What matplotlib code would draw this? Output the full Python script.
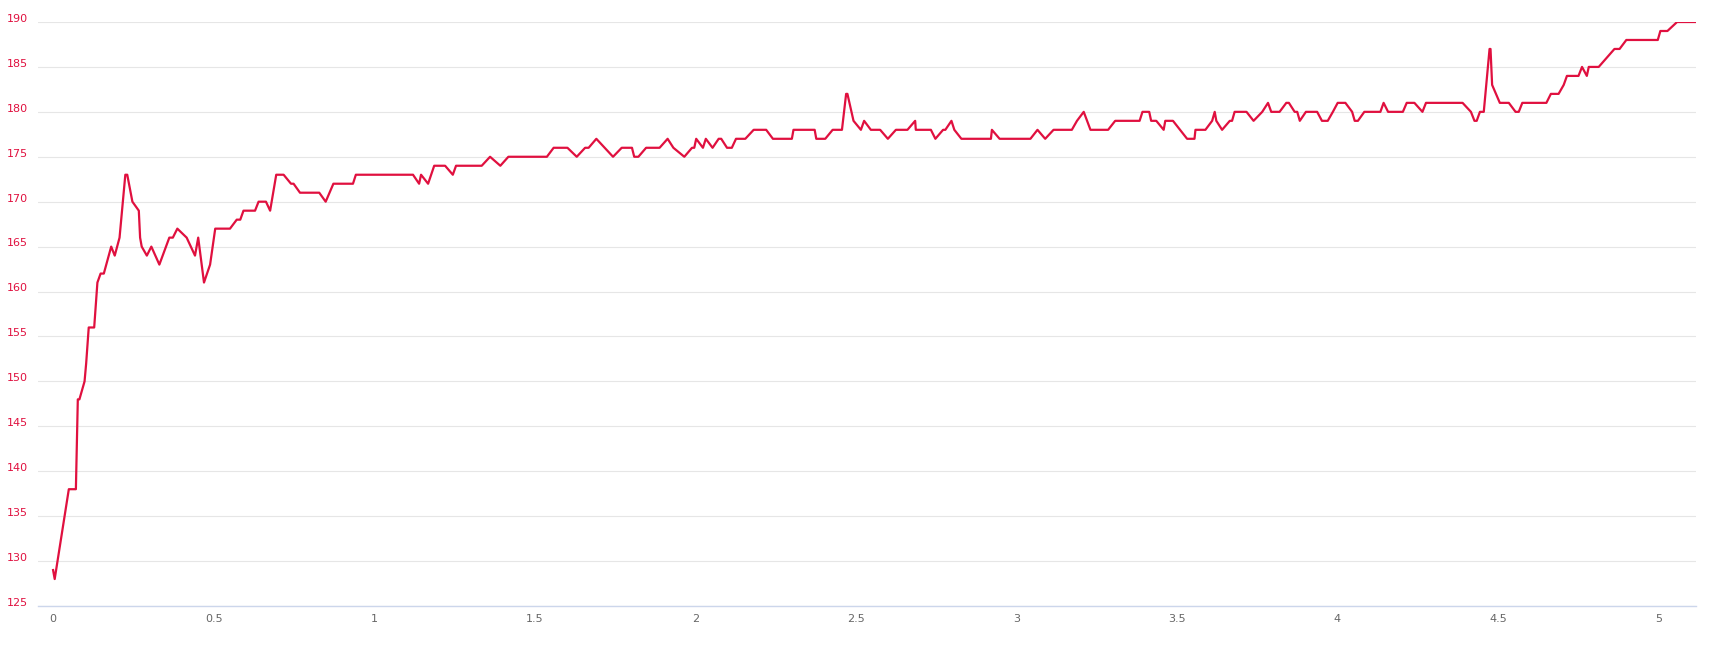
import matplotlib
matplotlib.use("Agg")
import matplotlib.pyplot as plt
import matplotlib.transforms as mtransforms

# vertices of the line
x_vals = [
    0.000, 0.005, 0.049, 0.071, 0.077, 0.082, 0.098, 0.103, 0.111, 0.128,
    0.138, 0.148, 0.158, 0.181, 0.192, 0.207, 0.225, 0.231, 0.247, 0.267,
    0.271, 0.276, 0.292, 0.306, 0.331, 0.362, 0.373, 0.387, 0.416, 0.442,
    0.452, 0.470, 0.489, 0.505, 0.551, 0.572, 0.583, 0.593, 0.629, 0.640,
    0.663, 0.676, 0.695, 0.718, 0.741, 0.749, 0.769, 0.829, 0.849, 0.873,
    0.934, 0.943, 1.121, 1.140, 1.146, 1.168, 1.187, 1.221, 1.245, 1.255,
    1.335, 1.361, 1.393, 1.418, 1.538, 1.559, 1.602, 1.631, 1.657, 1.668,
    1.692, 1.744, 1.771, 1.803, 1.810, 1.823, 1.847, 1.889, 1.914, 1.932,
    1.966, 1.990, 1.997, 2.003, 2.024, 2.033, 2.054, 2.073, 2.081, 2.099,
    2.114, 2.127, 2.156, 2.182, 2.221, 2.242, 2.301, 2.306, 2.372, 2.377,
    2.405, 2.428, 2.457, 2.470, 2.474, 2.493, 2.516, 2.526, 2.547, 2.576,
    2.600, 2.625, 2.661, 2.685, 2.687, 2.734, 2.748, 2.772, 2.779, 2.798,
    2.807, 2.829, 2.921, 2.924, 2.948, 3.044, 3.066, 3.090, 3.116, 3.173,
    3.189, 3.210, 3.231, 3.286, 3.308, 3.384, 3.393, 3.414, 3.420, 3.436,
    3.459, 3.464, 3.488, 3.532, 3.555, 3.558, 3.589, 3.610, 3.618, 3.623,
    3.641, 3.665, 3.672, 3.680, 3.717, 3.739, 3.766, 3.784, 3.794, 3.820,
    3.841, 3.849, 3.867, 3.875, 3.883, 3.902, 3.937, 3.952, 3.970, 3.986,
    4.001, 4.025, 4.046, 4.054, 4.064, 4.084, 4.134, 4.144, 4.158, 4.204,
    4.216, 4.240, 4.265, 4.276, 4.390, 4.416, 4.427, 4.434, 4.444, 4.456,
    4.474, 4.477, 4.482, 4.506, 4.534, 4.555, 4.565, 4.576, 4.651, 4.665,
    4.689, 4.705, 4.715, 4.751, 4.762, 4.777, 4.783, 4.814, 4.863, 4.879,
    4.900, 4.998, 5.006, 5.028, 5.058, 5.115,
]
y_vals = [
    129, 128, 138, 138, 148, 148, 150, 152, 156, 156,
    161, 162, 162, 165, 164, 166, 173, 173, 170, 169,
    166, 165, 164, 165, 163, 166, 166, 167, 166, 164,
    166, 161, 163, 167, 167, 168, 168, 169, 169, 170,
    170, 169, 173, 173, 172, 172, 171, 171, 170, 172,
    172, 173, 173, 172, 173, 172, 174, 174, 173, 174,
    174, 175, 174, 175, 175, 176, 176, 175, 176, 176,
    177, 175, 176, 176, 175, 175, 176, 176, 177, 176,
    175, 176, 176, 177, 176, 177, 176, 177, 177, 176,
    176, 177, 177, 178, 178, 177, 177, 178, 178, 177,
    177, 178, 178, 182, 182, 179, 178, 179, 178, 178,
    177, 178, 178, 179, 178, 178, 177, 178, 178, 179,
    178, 177, 177, 178, 177, 177, 178, 177, 178, 178,
    179, 180, 178, 178, 179, 179, 180, 180, 179, 179,
    178, 179, 179, 177, 177, 178, 178, 179, 180, 179,
    178, 179, 179, 180, 180, 179, 180, 181, 180, 180,
    181, 181, 180, 180, 179, 180, 180, 179, 179, 180,
    181, 181, 180, 179, 179, 180, 180, 181, 180, 180,
    181, 181, 180, 181, 181, 180, 179, 179, 180, 180,
    187, 187, 183, 181, 181, 180, 180, 181, 181, 182,
    182, 183, 184, 184, 185, 184, 185, 185, 187, 187,
    188, 188, 189, 189, 190, 190,
]
x_ticks = [0, 0.5, 1, 1.5, 2, 2.5, 3, 3.5, 4, 4.5, 5]
x_tick_labels = ["0", "0.5", "1", "1.5", "2", "2.5", "3", "3.5", "4", "4.5", "5"]
y_ticks = [125, 130, 135, 140, 145, 150, 155, 160, 165, 170, 175, 180, 185, 190]

red = "#e0103f"

fig = plt.figure(figsize=(17.09, 6.45), dpi=100)
W, H = 1709, 645
ax = fig.add_axes([38 / W, 1 - 606 / H, (1696 - 38) / W, (606 - 22) / H])

ax.plot(x_vals, y_vals, color=red, linewidth=1.6, solid_joinstyle="round")

ax.set_xlim(-0.047, 5.117)
ax.set_ylim(125, 190)
ax.set_xticks(x_ticks)
ax.set_xticklabels(x_tick_labels)
ax.set_yticks(y_ticks)

ax.grid(axis="y", color="#e6e6e6", linewidth=0.8)
ax.set_axisbelow(True)
for side in ["top", "right", "left"]:
    ax.spines[side].set_visible(False)
ax.spines["bottom"].set_color("#ccd6eb")
ax.spines["bottom"].set_linewidth(1)

ax.tick_params(axis="x", length=0, pad=6, labelsize=8, labelcolor="#666666")
ax.tick_params(axis="y", length=0, pad=7, labelsize=8, labelcolor=red)

# y labels sit slightly above their grid line
offset = mtransforms.ScaledTranslation(0, 3 / 72, fig.dpi_scale_trans)
for lab in ax.get_yticklabels():
    lab.set_transform(lab.get_transform() + offset)

fig.savefig("out.png", dpi=100)
